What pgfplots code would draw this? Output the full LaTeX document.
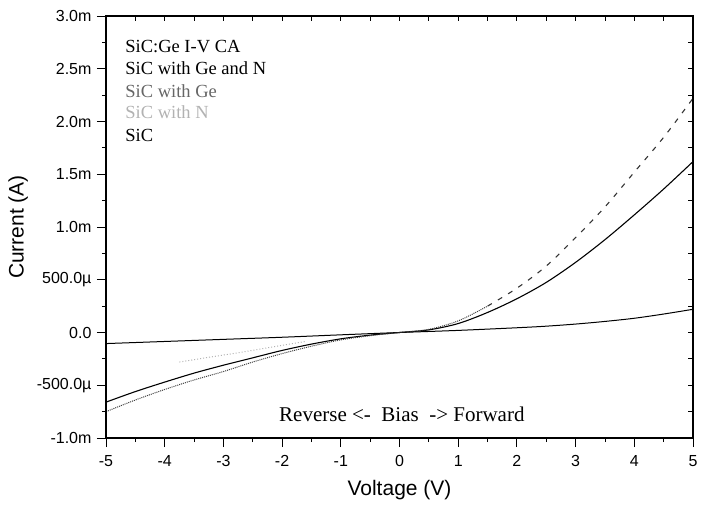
\documentclass[border=0pt]{standalone}
\usepackage{fontspec}
\setmainfont{Liberation Serif}
\setsansfont{Liberation Sans}
\usepackage{pgfplots}
\pgfplotsset{compat=1.18}
\begin{document}
\begin{tikzpicture}[x=1pt,y=1pt]
% canvas of the reference (1px = 1pt)
\path (-106,-69) rectangle (598,438);
\begin{axis}[
	at={(0,0)},anchor=south west,
	scale only axis,width=587pt,height=422pt,
	xmin=-5,xmax=5,ymin=-1,ymax=3,
	axis line style={line width=1.1pt},
	tick align=outside,xtick pos=bottom,ytick pos=left,
	xtick={-5,-4,-3,-2,-1,0,1,2,3,4,5},
	xticklabels={-5,-4,-3,-2,-1,0,1,2,3,4,5},
	ytick={-1,-0.5,0,0.5,1,1.5,2,2.5,3},
	yticklabels={-1.0m,-500.0µ,0.0,500.0µ,1.0m,1.5m,2.0m,2.5m,3.0m},
	minor x tick num=1,minor y tick num=1,
	major tick length=9pt,minor tick length=4pt,
	tick style={line width=0.9pt,black},
	ticklabel style={font=\sffamily\fontsize{16}{19}\selectfont},
	xticklabel style={yshift=-5pt},
	yticklabel style={xshift=-2pt},
	xlabel={Voltage (V)},ylabel={Current (A)},
	label style={font=\sffamily\fontsize{21}{24}\selectfont},
	xlabel style={yshift=-7pt},
	ylabel style={yshift=2pt},
	clip=false]
% SiC
\addplot[black,line width=1pt,smooth] table {
-5 -0.105
-4 -0.085
-3 -0.065
-2 -0.045
-1 -0.022
0 0
1 0.02
2 0.045
2.5 0.06
3 0.08
3.5 0.105
4 0.135
4.5 0.175
5 0.22
};
% SiC with Ge and N
\addplot[black,line width=1.1pt,smooth] table {
-5 -0.66
-4.5 -0.56
-4 -0.47
-3.5 -0.385
-3 -0.31
-2.5 -0.24
-2 -0.17
-1.5 -0.11
-1 -0.06
-0.5 -0.025
0 0
0.5 0.025
1 0.085
1.5 0.19
2 0.32
2.5 0.475
3 0.665
3.5 0.88
4 1.115
4.5 1.36
5 1.62
};
% SiC with Ge
\addplot[black!75,line width=1pt,densely dotted,smooth] table {
-5 -0.75
-4.5 -0.64
-4 -0.54
-3.5 -0.45
-3 -0.37
-2.5 -0.28
-2 -0.2
-1.5 -0.13
-1 -0.07
-0.5 -0.03
0 0
0.5 0.03
1 0.11
1.5 0.25
};
\addplot[black!80,line width=1.1pt,dash pattern=on 5pt off 7pt,smooth] table {
1.5 0.25
2 0.42
2.5 0.63
3 0.9
3.5 1.19
4 1.52
4.5 1.85
5 2.22
};
% SiC with N
\addplot[black!30,line width=1pt,dotted] table {
-3.75 -0.28
-3.25 -0.235
-2.72 -0.19
-2.05 -0.126
-1.6 -0.085
};
\node[anchor=base west,font=\fontsize{18.5}{22}\selectfont] at (axis cs:-4.73,2.65) {SiC:Ge I-V CA};
\node[anchor=base west,font=\fontsize{18.5}{22}\selectfont] at (axis cs:-4.73,2.45) {SiC with Ge and N};
\node[anchor=base west,font=\fontsize{18.5}{22}\selectfont,text=black!60] at (axis cs:-4.73,2.23) {SiC with Ge};
\node[anchor=base west,font=\fontsize{18.5}{22}\selectfont,text=black!30] at (axis cs:-4.73,2.03) {SiC with N};
\node[anchor=base west,font=\fontsize{18.5}{22}\selectfont] at (axis cs:-4.73,1.81) {SiC};
\node[anchor=base,font=\fontsize{21}{24}\selectfont] at (axis cs:0.04,-0.845) {Reverse <-\ \ Bias\ \ -> Forward};
\end{axis}
% top and right ticks, pointing inwards
\begin{axis}[
	at={(0,0)},anchor=south west,
	scale only axis,width=587pt,height=422pt,
	xmin=-5,xmax=5,ymin=-1,ymax=3,
	axis line style={line width=1.1pt},
	tick align=inside,xtick pos=top,ytick pos=right,
	xtick={-5,-4.5,...,5},ytick={-1,-0.75,...,3},
	xticklabels={},yticklabels={},
	major tick length=5pt,
	tick style={line width=0.9pt,black}]
\end{axis}
\end{tikzpicture}
\end{document}
